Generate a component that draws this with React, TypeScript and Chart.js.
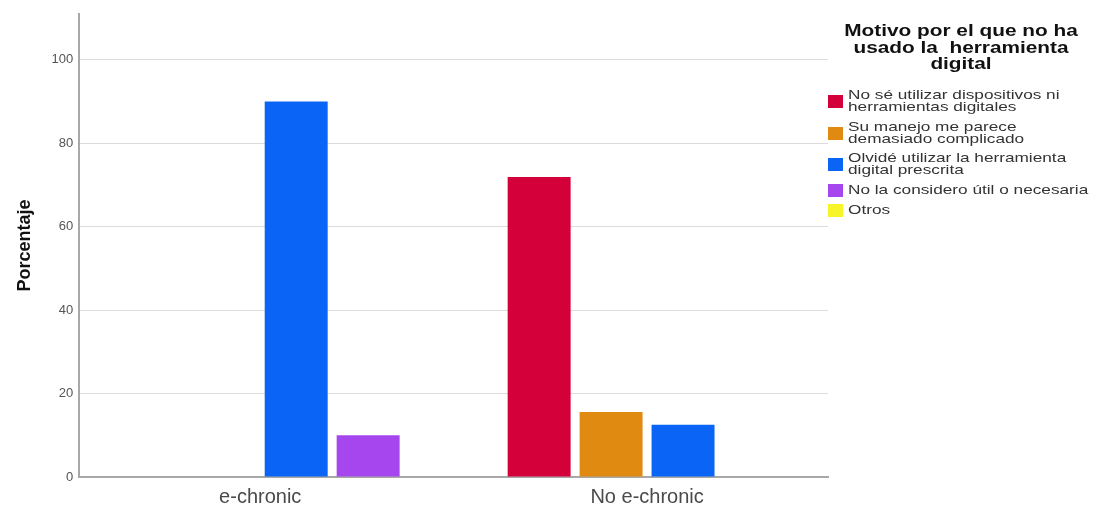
import React, { useEffect, useRef } from "react";
import { Chart, registerables } from "chart.js";

Chart.register(...registerables);

const categories = ["e-chronic", "No e-chronic"];
const seriesNames = [
  ["No sé utilizar dispositivos ni", "herramientas digitales"],
  ["Su manejo me parece", "demasiado complicado"],
  ["Olvidé utilizar la herramienta", "digital prescrita"],
  ["No la considero útil o necesaria"],
  ["Otros"],
];
const seriesColors = ["#d4003a", "#e08a12", "#0a64f5", "#a546ee", "#f8f42a"];
const noSeValues = [0, 71.9];
const manejoValues = [0, 15.6];
const olvideValues = [90, 12.5];
const noUtilValues = [10, 0];
const legendTitle = ["Motivo por el que no ha", "usado la  herramienta", "digital"];
const yTicks = [0, 20, 40, 60, 80, 100];

const legendPlugin = {
  id: "sideLegend",
  afterDraw(chart: any) {
    const ctx = chart.ctx;
    ctx.save();
    ctx.fillStyle = "#111";
    ctx.font = "bold 16px 'Liberation Sans', Arial, sans-serif";
    ctx.textAlign = "center";
    ctx.textBaseline = "middle";
    const titleY = [32, 48.5, 65];
    legendTitle.forEach((t, i) => {
      ctx.save();
      ctx.translate(961, titleY[i]);
      ctx.scale(1.3, 1.0);
      ctx.fillText(t, 0, 0);
      ctx.restore();
    });
    const itemTops = [95, 127, 158, 190, 210];
    ctx.textAlign = "left";
    ctx.font = "14px 'Liberation Sans', Arial, sans-serif";
    seriesNames.forEach((lines, i) => {
      const y0 = itemTops[i];
      const boxCenter = lines.length > 1 ? y0 + 6 : y0;
      ctx.fillStyle = seriesColors[i];
      ctx.fillRect(828, boxCenter - 6, 15, 13);
      ctx.fillStyle = "#333";
      lines.forEach((l, j) => {
        ctx.save();
        ctx.translate(848, y0 + j * 12);
        ctx.scale(1.23, 0.95);
        ctx.fillText(l, 0, 0);
        ctx.restore();
      });
    });
    ctx.restore();
  },
};

export default function App() {
  const ref = useRef<HTMLCanvasElement>(null);
  useEffect(() => {
    document.body.style.margin = "0";
    const values = [noSeValues, manejoValues, olvideValues, noUtilValues];
    const chart = new Chart(ref.current!, {
      type: "bar",
      data: {
        datasets: values.map((v, i) => ({
          label: seriesNames[i].join(" "),
          data: v.map((y, k) => ({ x: k, y })),
          backgroundColor: seriesColors[i],
          borderWidth: 0,
          categoryPercentage: 0.744,
          barPercentage: 0.875,
        })),
      },
      options: {
        responsive: false,
        animation: false,
        layout: { padding: { top: 14, right: 265, bottom: 0, left: 14 } },
        plugins: {
          legend: { display: false },
          tooltip: { enabled: false },
        },
        scales: {
          x: {
            type: "linear",
            offset: false,
            min: -0.4677,
            max: 1.4677,
            afterBuildTicks: (scale: any) => {
              scale.ticks = categories.map((_, i) => ({ value: i }));
            },
            grid: { display: false },
            border: { display: true, color: "#a8a8a8", width: 2 },
            ticks: {
              color: "#4a4a4a",
              font: { size: 20, family: "'Liberation Sans', Arial, sans-serif" },
              padding: 0,
              autoSkip: false,
              maxRotation: 0,
              callback: (value: any) => categories[Math.round(Number(value))] ?? "",
            },
          },
          y: {
            min: 0,
            max: 111,
            afterBuildTicks: (scale: any) => {
              scale.ticks = yTicks.map((v) => ({ value: v }));
            },
            grid: { color: "#dcdcdc", lineWidth: 1, drawTicks: false },
            border: { display: true, color: "#a8a8a8", width: 2 },
            ticks: {
              color: "#555",
              font: { size: 13, family: "'Liberation Sans', Arial, sans-serif" },
              padding: 6,
            },
            title: {
              display: true,
              text: "Porcentaje",
              color: "#111",
              font: { size: 18, weight: "bold", family: "'Liberation Sans', Arial, sans-serif" },
              padding: { top: 0, bottom: 10 },
            },
          },
        },
      },
      plugins: [legendPlugin],
    });
    return () => chart.destroy();
  }, []);
  return (
    <div style={{ width: 1093, height: 509, background: "#fff" }}>
      <canvas ref={ref} width={1093} height={509} />
    </div>
  );
}
